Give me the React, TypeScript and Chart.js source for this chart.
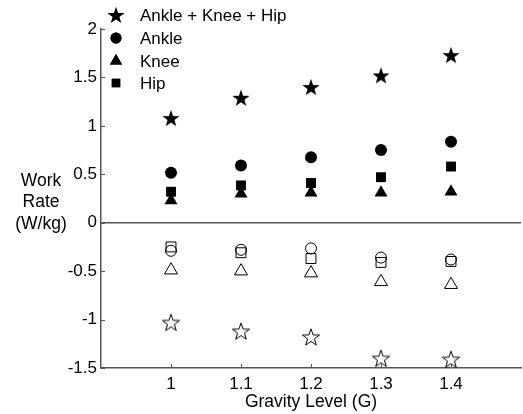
import React, { useEffect, useRef } from 'react';
import { Chart, registerables } from 'chart.js';
import { drawPoint } from 'chart.js/helpers';

Chart.register(...registerables);

const gravity = [1, 1.1, 1.2, 1.3, 1.4];
const totalPos = [1.08, 1.29, 1.4, 1.52, 1.73];
const anklePos = [0.515, 0.59, 0.675, 0.75, 0.835];
const kneePos = [0.23, 0.3, 0.31, 0.31, 0.32];
const hipPos = [0.32, 0.385, 0.41, 0.47, 0.58];
const totalNeg = [-1.03, -1.12, -1.18, -1.4, -1.41];
const ankleNeg = [-0.29, -0.28, -0.265, -0.36, -0.38];
const kneeNeg = [-0.49, -0.5, -0.52, -0.61, -0.64];
const hipNeg = [-0.25, -0.31, -0.37, -0.41, -0.4];
const xTicks = [1, 1.1, 1.2, 1.3, 1.4];
const yTicks = [-1.5, -1, -0.5, 0, 0.5, 1, 1.5, 2];
const legendLabels = ['Ankle + Knee + Hip', 'Ankle', 'Knee', 'Hip'];
const yTitleLines = ['Work', 'Rate', '(W/kg)'];
const xTitle = 'Gravity Level (G)';

const FONT = 'Arial, "Liberation Sans", Helvetica, sans-serif';
const AXIS_COLOR = '#555555';
const CANVAS_W = 532;
const CANVAS_H = 414;

function makeStar(filled: boolean): HTMLCanvasElement {
  const c = document.createElement('canvas');
  const size = 20;
  c.width = size;
  c.height = size;
  const ctx = c.getContext('2d')!;
  const cx = size / 2;
  const cy = size / 2 + 0.8;
  const R = 9;
  const r = R * 0.4;
  ctx.beginPath();
  for (let i = 0; i < 10; i++) {
    const rad = i % 2 === 0 ? R : r;
    const a = -Math.PI / 2 + (i * Math.PI) / 5;
    const px = cx + rad * Math.cos(a);
    const py = cy + rad * Math.sin(a);
    if (i === 0) ctx.moveTo(px, py);
    else ctx.lineTo(px, py);
  }
  ctx.closePath();
  if (filled) {
    ctx.fillStyle = '#000';
    ctx.fill();
  } else {
    ctx.strokeStyle = '#000';
    ctx.lineWidth = 1;
    ctx.stroke();
  }
  return c;
}

function toPoints(vals: number[]) {
  return gravity.map((g, i) => ({ x: g, y: vals[i] }));
}

export default function App() {
  const ref = useRef<HTMLCanvasElement | null>(null);

  useEffect(() => {
    document.documentElement.style.overflow = 'hidden';
    document.body.style.overflow = 'hidden';
    const starFilled = makeStar(true);
    const starOpen = makeStar(false);

    const mk = (label: string, vals: number[], style: any, radius: number, filled: boolean) => ({
      label,
      data: toPoints(vals),
      pointStyle: style,
      pointRadius: radius,
      pointHoverRadius: radius,
      backgroundColor: filled ? '#000' : 'rgba(0,0,0,0)',
      borderColor: '#000',
      borderWidth: filled ? 0 : 1,
      showLine: false,
    });

    const datasets = [
      mk(legendLabels[2], kneePos, 'triangle', 7.5, true),
      mk(legendLabels[3], hipPos, 'rect', 7, true),
      mk(legendLabels[1], anklePos, 'circle', 6, true),
      mk(legendLabels[0], totalPos, starFilled, 10, true),
      mk(legendLabels[2] + ' (neg)', kneeNeg, 'triangle', 7.5, false),
      mk(legendLabels[3] + ' (neg)', hipNeg, 'rect', 7, false),
      mk(legendLabels[1] + ' (neg)', ankleNeg, 'circle', 5.5, false),
      mk(legendLabels[0] + ' (neg)', totalNeg, starOpen, 10, false),
    ];

    const customPlugin = {
      id: 'customDecor',
      afterDraw(chart: any) {
        const ctx = chart.ctx;
        const area = chart.chartArea;
        const xs = chart.scales.x;
        const ys = chart.scales.y;
        ctx.save();
        // inward ticks
        ctx.strokeStyle = AXIS_COLOR;
        ctx.lineWidth = 1;
        ctx.beginPath();
        xTicks.forEach((v) => {
          const px = Math.round(xs.getPixelForValue(v)) + 0.5;
          ctx.moveTo(px, area.bottom);
          ctx.lineTo(px, area.bottom - 4);
        });
        yTicks.forEach((v) => {
          const py = Math.round(ys.getPixelForValue(v)) + 0.5;
          ctx.moveTo(area.left, py);
          ctx.lineTo(area.left + 4, py);
        });
        ctx.stroke();

        // titles
        ctx.fillStyle = '#000';
        ctx.font = '17.5px ' + FONT;
        ctx.textAlign = 'center';
        ctx.textBaseline = 'middle';
        yTitleLines.forEach((t, i) => {
          ctx.fillText(t, 41, 181 + i * 21.5);
        });
        ctx.fillText(xTitle, 311, 402);

        // legend
        const rows = [15, 38, 61, 83];
        const styles: any[] = [starFilled, 'circle', 'triangle', 'rect'];
        const radii = [10, 5.5, 7, 6];
        styles.forEach((st, i) => {
          ctx.fillStyle = '#000';
          ctx.strokeStyle = '#000';
          drawPoint(ctx, { pointStyle: st, radius: radii[i], rotation: 0, borderWidth: 0 }, 116, rows[i]);
          ctx.fill();
        });
        ctx.fillStyle = '#000';
        ctx.font = '17px ' + FONT;
        ctx.textAlign = 'left';
        ctx.textBaseline = 'middle';
        legendLabels.forEach((t, i) => {
          ctx.fillText(t, 140, rows[i] + 1);
        });
        ctx.restore();
      },
    };

    const chart = new Chart(ref.current!, {
      type: 'scatter',
      data: { datasets: datasets as any },
      options: {
        animation: false,
        responsive: false,
        maintainAspectRatio: false,
        layout: { padding: { left: 0, right: 0, top: 29, bottom: 0 } },
        plugins: {
          legend: { display: false },
          tooltip: { enabled: false },
          title: { display: false },
        },
        scales: {
          x: {
            type: 'linear',
            min: 0.9,
            max: 1.5,
            afterBuildTicks: (scale: any) => {
              scale.ticks = xTicks.map((v) => ({ value: v }));
            },
            afterFit: (scale: any) => {
              scale.height = 46;
              scale.paddingLeft = 0;
              scale.paddingRight = 0;
              scale.paddingTop = 0;
              scale.paddingBottom = 0;
            },
            ticks: {
              color: '#000',
              font: { size: 17, family: FONT },
              padding: 6,
              maxRotation: 0,
              callback: (v: any) => String(Number(v).toFixed(1)).replace(/\.0$/, ''),
            },
            grid: { display: true, drawOnChartArea: false, drawTicks: false },
            border: { display: true, color: AXIS_COLOR, width: 1.5 },
          },
          y: {
            type: 'linear',
            min: -1.5,
            max: 2,
            afterBuildTicks: (scale: any) => {
              scale.ticks = yTicks.map((v) => ({ value: v }));
            },
            afterFit: (scale: any) => {
              scale.width = 101;
              scale.paddingLeft = 0;
              scale.paddingRight = 0;
              scale.paddingTop = 0;
              scale.paddingBottom = 0;
            },
            ticks: {
              color: '#000',
              font: { size: 17, family: FONT },
              padding: 4,
              callback: (v: any) => String(Number(v)),
            },
            grid: {
              display: true,
              drawOnChartArea: true,
              drawTicks: false,
              color: (c: any) => (c.tick && c.tick.value === 0 ? AXIS_COLOR : 'rgba(0,0,0,0)'),
              lineWidth: 1.5,
            },
            border: { display: true, color: AXIS_COLOR, width: 1.5 },
          },
        },
      },
      plugins: [customPlugin],
    });
    return () => chart.destroy();
  }, []);

  return (
    <div style={{ position: 'fixed', left: 0, top: 0, width: CANVAS_W, height: CANVAS_H, overflow: 'hidden', background: '#fff' }}>
      <canvas ref={ref} width={CANVAS_W} height={CANVAS_H} style={{ width: CANVAS_W, height: CANVAS_H, display: 'block' }} />
    </div>
  );
}
